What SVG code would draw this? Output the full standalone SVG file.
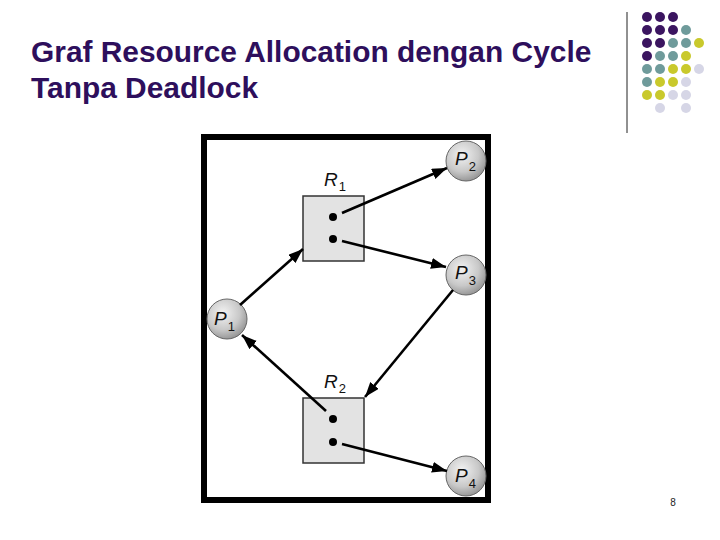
<svg xmlns="http://www.w3.org/2000/svg" width="720" height="540" viewBox="0 0 720 540">
<style>
.title{font-family:"Liberation Sans",Arial,sans-serif;font-weight:bold;font-size:29.9px;fill:#2e0f5c}
.res{fill:#e3e3e3;stroke:#333;stroke-width:1.5}
.proc{fill:url(#pg);stroke:#666;stroke-width:1}
.lbl{font-family:"Liberation Sans",Arial,sans-serif;font-style:italic;font-size:19px;fill:#111}
.sub{font-style:normal;font-size:13px}
.edge{stroke:#000;stroke-width:2.6;fill:none;marker-end:url(#ah)}
.pu{fill:#3b1560}.te{fill:#6f9b9b}.ye{fill:#c9c92c}.la{fill:#d6d6e6}
</style>
<defs>
<radialGradient id="pg" cx="0.4" cy="0.35" r="0.7">
<stop offset="0" stop-color="#f2f2f2"/>
<stop offset="0.6" stop-color="#c8c8c8"/>
<stop offset="1" stop-color="#8f8f8f"/>
</radialGradient>
<marker id="ah" markerUnits="userSpaceOnUse" markerWidth="16" markerHeight="12" refX="15" refY="5.5" orient="auto">
<path d="M0,0 L15,5.5 L0,11 Z" fill="#000"/>
</marker>
</defs>
<rect width="720" height="540" fill="#fff"/>
<g id="title">
<text class="title" x="31" y="62">Graf Resource Allocation dengan Cycle</text>
<text class="title" x="31" y="98">Tanpa Deadlock</text>
</g>
<g id="decor">
<line x1="627" y1="12" x2="627" y2="133" stroke="#222" stroke-width="1"/>
<circle class="pu" cx="647" cy="17" r="5"/><circle class="pu" cx="660" cy="17" r="5"/><circle class="pu" cx="673" cy="17" r="5"/>
<circle class="pu" cx="647" cy="30" r="5"/><circle class="pu" cx="660" cy="30" r="5"/><circle class="pu" cx="673" cy="30" r="5"/><circle class="te" cx="686" cy="30" r="5"/>
<circle class="pu" cx="647" cy="43" r="5"/><circle class="pu" cx="660" cy="43" r="5"/><circle class="te" cx="673" cy="43" r="5"/><circle class="te" cx="686" cy="43" r="5"/><circle class="ye" cx="699" cy="43" r="5"/>
<circle class="pu" cx="647" cy="56" r="5"/><circle class="te" cx="660" cy="56" r="5"/><circle class="te" cx="673" cy="56" r="5"/><circle class="ye" cx="686" cy="56" r="5"/>
<circle class="te" cx="647" cy="69" r="5"/><circle class="te" cx="660" cy="69" r="5"/><circle class="ye" cx="673" cy="69" r="5"/><circle class="ye" cx="686" cy="69" r="5"/><circle class="la" cx="699" cy="69" r="5"/>
<circle class="te" cx="647" cy="82" r="5"/><circle class="ye" cx="660" cy="82" r="5"/><circle class="ye" cx="673" cy="82" r="5"/><circle class="la" cx="686" cy="82" r="5"/>
<circle class="ye" cx="647" cy="95" r="5"/><circle class="ye" cx="660" cy="95" r="5"/><circle class="la" cx="673" cy="95" r="5"/><circle class="la" cx="686" cy="95" r="5"/>
<circle class="la" cx="660" cy="108" r="5"/><circle class="la" cx="686" cy="108" r="5"/>
</g>
<rect x="204" y="137" width="284" height="363" fill="#fff" stroke="#000" stroke-width="6"/>
<g id="R1">
<rect class="res" x="303" y="196" width="61" height="65"/>
<circle cx="333" cy="217" r="4"/><circle cx="333" cy="239" r="4"/>
<text class="lbl" x="324" y="186">R<tspan class="sub" dx="1" dy="5">1</tspan></text>
</g>
<g id="R2">
<rect class="res" x="303" y="398" width="61" height="65"/>
<circle cx="333" cy="419" r="4"/><circle cx="333" cy="442" r="4"/>
<text class="lbl" x="324" y="388">R<tspan class="sub" dx="1" dy="5">2</tspan></text>
</g>
<g id="P1">
<circle class="proc" cx="227" cy="319" r="20"/>
<text class="lbl" x="214" y="325">P<tspan class="sub" dx="1" dy="6">1</tspan></text>
</g>
<g id="P2">
<circle class="proc" cx="466" cy="161" r="20"/>
<text class="lbl" x="455" y="165">P<tspan class="sub" dx="1" dy="6">2</tspan></text>
</g>
<g id="P3">
<circle class="proc" cx="466" cy="275" r="20"/>
<text class="lbl" x="455" y="279">P<tspan class="sub" dx="1" dy="6">3</tspan></text>
</g>
<g id="P4">
<circle class="proc" cx="466" cy="476" r="20"/>
<text class="lbl" x="455" y="482">P<tspan class="sub" dx="1" dy="6">4</tspan></text>
</g>
<g id="connectors">
<line class="edge" x1="240" y1="305" x2="303" y2="249"/>
<line class="edge" x1="342" y1="213" x2="447" y2="168"/>
<line class="edge" x1="342" y1="241" x2="446" y2="267"/>
<line class="edge" x1="453" y1="290" x2="365" y2="397"/>
<line class="edge" x1="326" y1="411" x2="242" y2="335"/>
<line class="edge" x1="342" y1="444" x2="447" y2="471"/>
</g>
<text x="673" y="506" font-family="Liberation Sans,Arial,sans-serif" font-size="10" text-anchor="middle" fill="#222">8</text>
</svg>
